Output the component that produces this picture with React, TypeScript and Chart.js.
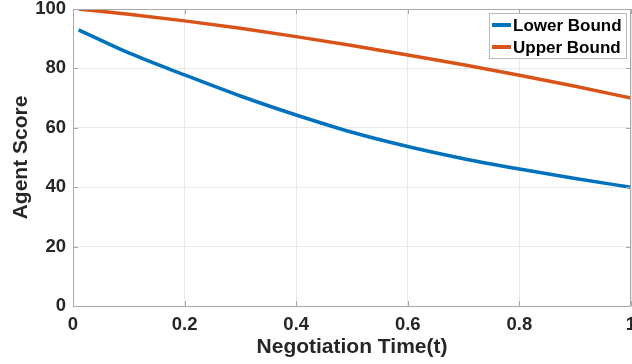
import React, { useEffect, useRef } from "react";
import { Chart, registerables } from "chart.js";

Chart.register(...registerables);

const timePoints = [0.01, 0.1, 0.2, 0.3, 0.4, 0.5, 0.6, 0.7, 0.8, 0.9, 1.0];
const lowerBound = [93, 85.2, 77.8, 70.7, 64.3, 58.5, 53.7, 49.6, 46.1, 42.9, 40];
const upperBound = [100, 98.2, 96, 93.5, 90.7, 87.7, 84.5, 81.2, 77.7, 74, 70];
const seriesLabels = ["Lower Bound", "Upper Bound"];
const seriesColors = ["#0072BD", "#D95319"];
const xTicks = [0, 0.2, 0.4, 0.6, 0.8, 1];
const yTicks = [0, 20, 40, 60, 80, 100];
const xTitle = "Negotiation Time(t)";
const yTitle = "Agent Score";

const FONT = "'Liberation Sans', Arial, Helvetica, sans-serif";
const AXIS_COLOR = "#a8a8a8";

const boxAndTicks = {
  id: "boxAndTicks",
  afterDraw(chart: any) {
    const { ctx, chartArea } = chart;
    const { left, right, top, bottom } = chartArea;
    const xs = chart.scales.x;
    const ys = chart.scales.y;
    ctx.save();
    ctx.strokeStyle = AXIS_COLOR;
    ctx.lineWidth = 1;
    ctx.beginPath();
    ctx.rect(Math.round(left) + 0.5, Math.round(top) + 0.5, Math.round(right - left) - 1, Math.round(bottom - top));
    ctx.stroke();
    const tl = 5;
    ctx.beginPath();
    xTicks.forEach((v) => {
      const px = Math.round(xs.getPixelForValue(v)) + 0.5;
      ctx.moveTo(px, bottom);
      ctx.lineTo(px, bottom - tl);
      ctx.moveTo(px, top);
      ctx.lineTo(px, top + tl);
    });
    yTicks.forEach((v) => {
      const py = Math.round(ys.getPixelForValue(v)) + 0.5;
      ctx.moveTo(left, py);
      ctx.lineTo(left + tl, py);
      ctx.moveTo(right, py);
      ctx.lineTo(right - tl, py);
    });
    ctx.stroke();

    // legend
    const bx = 489.5, by = 13.5, bw = 137, bh = 45;
    ctx.fillStyle = "#ffffff";
    ctx.fillRect(bx, by, bw, bh);
    ctx.strokeStyle = "#b8b8b8";
    ctx.strokeRect(bx, by, bw, bh);
    ctx.font = "bold 17px " + FONT;
    ctx.textBaseline = "middle";
    ctx.textAlign = "left";
    seriesLabels.forEach((lab, i) => {
      const yy = 25 + i * 22;
      ctx.strokeStyle = seriesColors[i];
      ctx.lineWidth = 4;
      ctx.beginPath();
      ctx.moveTo(492, yy);
      ctx.lineTo(511, yy);
      ctx.stroke();
      ctx.fillStyle = "#000000";
      ctx.fillText(lab, 513, yy + 1);
    });
    ctx.restore();
  },
};

export default function App() {
  const ref = useRef<HTMLCanvasElement>(null);
  useEffect(() => {
    if (!ref.current) return;
    const datasets = [lowerBound, upperBound].map((vals, i) => ({
      label: seriesLabels[i],
      data: timePoints.map((t, j) => ({ x: t, y: vals[j] })),
      borderColor: seriesColors[i],
      backgroundColor: seriesColors[i],
      borderWidth: 3.5,
      pointRadius: 0,
      cubicInterpolationMode: "monotone" as const,
      fill: false,
    }));
    const chart = new Chart(ref.current, {
      type: "line",
      data: { datasets },
      plugins: [boxAndTicks],
      options: {
        responsive: false,
        animation: false,
        layout: { padding: { top: 9, right: 1, left: 0, bottom: 2 } },
        plugins: { legend: { display: false }, tooltip: { enabled: false } },
        scales: {
          x: {
            type: "linear",
            min: 0,
            max: 1,
            afterBuildTicks: (s: any) => {
              s.ticks = xTicks.map((v) => ({ value: v }));
            },
            afterFit: (s: any) => {
              s.height = 56;
              s.paddingLeft = 0;
              s.paddingRight = 0;
            },
            grid: { color: "#e8e8e8", drawTicks: false },
            border: { display: false },
            ticks: {
              padding: 8,
              color: "#262626",
              font: { family: FONT, size: 18.5, weight: "bold" },
              maxRotation: 0,
              autoSkip: false,
              callback: (v: any) => String(v),
            },
            title: {
              display: true,
              text: xTitle,
              color: "#262626",
              font: { family: FONT, size: 21, weight: "bold" },
              padding: { top: 0, bottom: 2 },
            },
          },
          y: {
            type: "linear",
            min: 0,
            max: 100,
            afterBuildTicks: (s: any) => {
              s.ticks = yTicks.map((v) => ({ value: v }));
            },
            afterFit: (s: any) => {
              s.width = 73;
              s.paddingTop = 0;
              s.paddingBottom = 0;
            },
            grid: { color: "#e8e8e8", drawTicks: false },
            border: { display: false },
            ticks: {
              padding: 7,
              color: "#262626",
              font: { family: FONT, size: 18.5, weight: "bold" },
              autoSkip: false,
            },
            title: {
              display: true,
              text: yTitle,
              color: "#262626",
              font: { family: FONT, size: 21, weight: "bold" },
              padding: { top: 9, bottom: 0 },
            },
          },
        },
      },
    });
    return () => chart.destroy();
  }, []);
  return (
    <div style={{ position: "fixed", left: 0, top: 0, width: 632, height: 364, background: "#fff" }}>
      <canvas ref={ref} width={632} height={364} style={{ display: "block" }} />
    </div>
  );
}
